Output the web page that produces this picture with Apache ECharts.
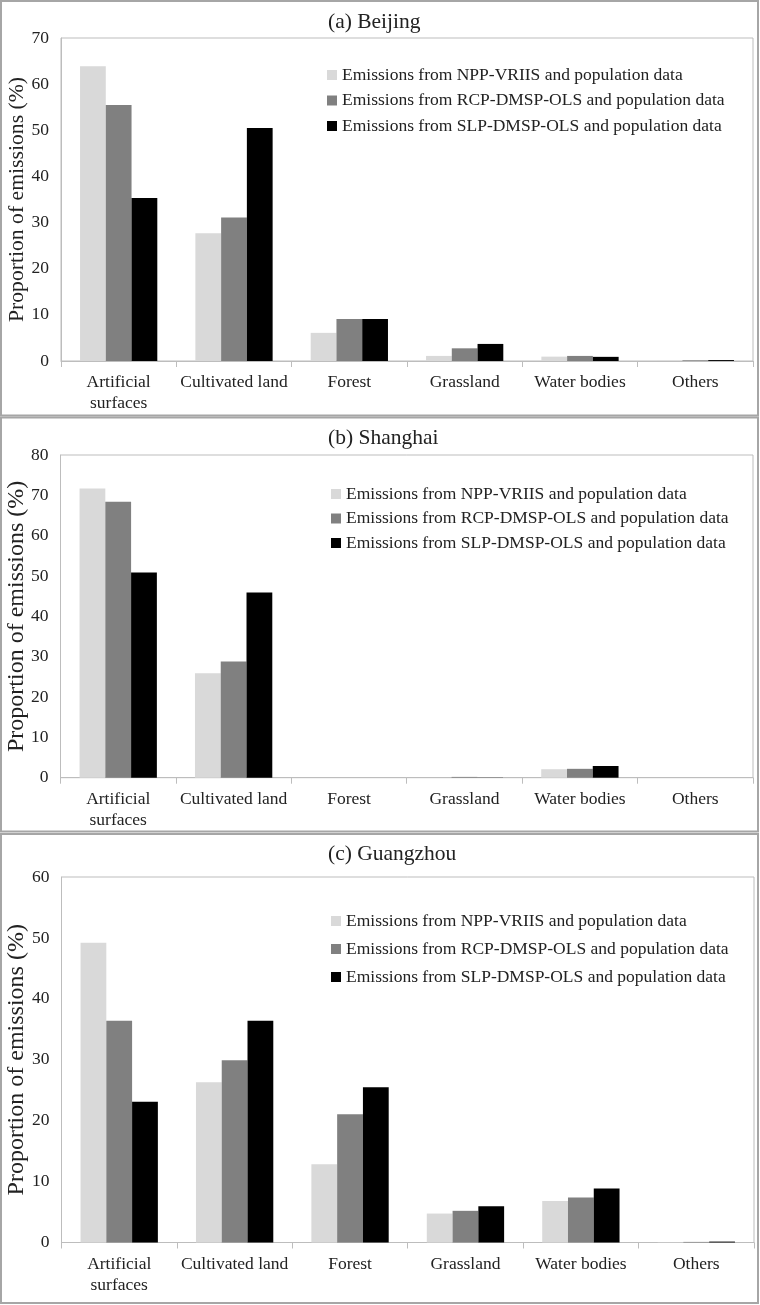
<!DOCTYPE html>
<html>
<head>
<meta charset="utf-8">
<script src="https://cdn.jsdelivr.net/npm/echarts@6/dist/echarts.min.js"></script>
<style>
html,body{margin:0;padding:0;background:#fff;}
#c{width:760px;height:1305px;}
</style>
</head>
<body>
<div id="c"></div>
<script>
// ---- data ----
const categories = ["Artificial\nsurfaces", "Cultivated land", "Forest", "Grassland", "Water bodies", "Others"];
const seriesNames = [
  "Emissions from NPP-VRIIS and population data",
  "Emissions from RCP-DMSP-OLS and population data",
  "Emissions from SLP-DMSP-OLS and population data"
];
const panelTitles = ["(a) Beijing", "(b) Shanghai", "(c) Guangzhou"];
const yAxisName = "Proportion of emissions (%)";

// Beijing
const beijingNPP = [63.9, 27.7, 6.1, 1.1, 0.95, 0.05];
const beijingRCP = [55.5, 31.1, 9.1, 2.75, 1.1, 0.15];
const beijingSLP = [35.3, 50.5, 9.1, 3.7, 0.9, 0.2];
// Shanghai
const shanghaiNPP = [71.7, 25.9, 0, 0, 2.1, 0];
const shanghaiRCP = [68.4, 28.8, 0, 0.2, 2.2, 0];
const shanghaiSLP = [50.9, 45.9, 0, 0.05, 2.9, 0];
// Guangzhou
const guangzhouNPP = [49.2, 26.3, 12.85, 4.75, 6.8, 0.05];
const guangzhouRCP = [36.4, 29.9, 21.05, 5.2, 7.4, 0.1];
const guangzhouSLP = [23.1, 36.4, 25.5, 5.95, 8.85, 0.15];

const yMax = [70, 80, 60];
const yInterval = 10;

// ---- layout / style ----
const colors = ["#d9d9d9", "#808080", "#000000"];
const font = "'Liberation Serif', 'Times New Roman', serif";
const textColor = "#222";
const axisColor = "#bdbdbd";

const panelData = [
  [beijingNPP, beijingRCP, beijingSLP],
  [shanghaiNPP, shanghaiRCP, shanghaiSLP],
  [guangzhouNPP, guangzhouRCP, guangzhouSLP]
];

const grids = [
  {left: 61, top: 38, width: 692, height: 323},
  {left: 60.5, top: 455, width: 692.5, height: 322.7},
  {left: 61.5, top: 877, width: 692.5, height: 365.5}
];
const titleTops = [11, 427.5, 843];
const legendTops = [65, 484, 911];
const legendLefts = [327, 331, 331];
const legendGaps = [5.5, 4.5, 8];
const yNameSizes = [21.7, 24, 24];
const yNameGaps = [33, 32, 33];
const panelBoxes = [
  {y: 1, h: 414.5},
  {y: 417.5, h: 414},
  {y: 834, h: 469}
];

const option = {
  animation: false,
  backgroundColor: "#fff",
  title: [], legend: [], grid: [], xAxis: [], yAxis: [], series: [],
  graphic: []
};

panelBoxes.forEach(b => {
  option.graphic.push({
    type: "rect", silent: true, z: 100,
    shape: {x: 1, y: b.y, width: 757, height: b.h},
    style: {fill: null, stroke: "#a6a6a6", lineWidth: 2}
  });
});

for (let p = 0; p < 3; p++) {
  option.title.push({
    text: panelTitles[p], left: 328, top: titleTops[p], padding: 0,
    textStyle: {fontFamily: font, fontSize: 21.5, fontWeight: "normal", color: textColor}
  });
  option.grid.push(Object.assign({
    show: true, borderColor: axisColor, borderWidth: 1, backgroundColor: "transparent",
    containLabel: false, outerBoundsMode: "none"
  }, grids[p]));
  option.xAxis.push({
    type: "category", gridIndex: p, data: categories,
    axisLine: {show: true, lineStyle: {color: axisColor, width: 1}},
    axisTick: {show: true, length: 6, alignWithLabel: false, lineStyle: {color: axisColor}},
    axisLabel: {fontFamily: font, fontSize: 17.5, color: textColor, margin: 11, lineHeight: 21, interval: 0},
    splitLine: {show: false}
  });
  option.yAxis.push({
    type: "value", gridIndex: p, min: 0, max: yMax[p], interval: yInterval,
    name: yAxisName, nameLocation: "middle", nameGap: yNameGaps[p], nameRotate: 90,
    nameMoveOverlap: false,
    nameTextStyle: {fontFamily: font, fontSize: yNameSizes[p], color: textColor},
    axisLine: {show: true, lineStyle: {color: axisColor}},
    axisTick: {show: false},
    axisLabel: {fontFamily: font, fontSize: 17.5, color: textColor, margin: 12},
    splitLine: {show: false}
  });
  option.legend.push({
    orient: "vertical", left: legendLefts[p], top: legendTops[p], padding: 0,
    itemWidth: 10, itemHeight: 10, itemGap: legendGaps[p], icon: "rect",
    selectedMode: false,
    textStyle: {fontFamily: font, fontSize: 17.5, color: textColor, lineHeight: 20},
    data: seriesNames.map((n, i) => ({name: n, itemStyle: {color: colors[i]}}))
  });
  for (let s = 0; s < 3; s++) {
    option.series.push({
      type: "bar", name: seriesNames[s], xAxisIndex: p, yAxisIndex: p,
      data: panelData[p][s],
      barGap: "0%", barCategoryGap: "33%",
      itemStyle: {color: colors[s]},
      emphasis: {disabled: true}
    });
  }
}

const chart = echarts.init(document.getElementById("c"), null, {renderer: "canvas"});
chart.setOption(option);
</script>
</body>
</html>
